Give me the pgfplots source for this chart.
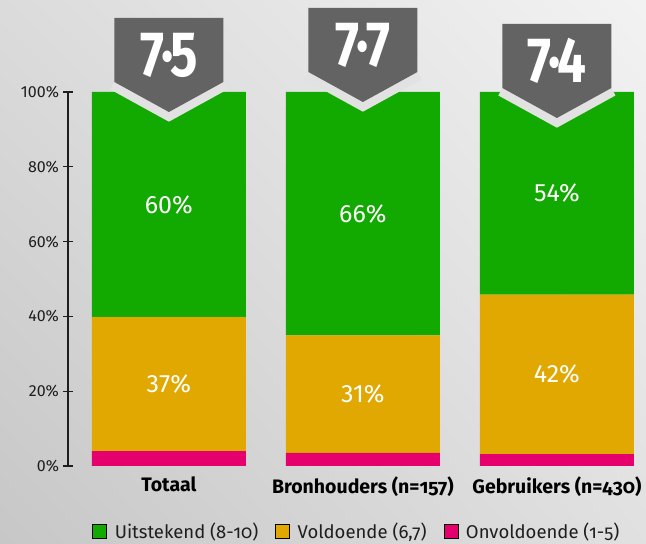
\documentclass[border=0pt]{standalone}
\usepackage{fontspec}
\setmainfont{Fira Sans}
\newfontfamily\osf[Numbers=OldStyle]{Fira Sans}
\usepackage{graphicx}
\usepackage{pgfplots}
\pgfplotsset{compat=1.18}
\usetikzlibrary{shadings}
\definecolor{cGreen}{HTML}{12A900}
\definecolor{cOrange}{HTML}{E0A800}
\definecolor{cMag}{HTML}{E5006E}
\definecolor{cBadge}{HTML}{636363}
\definecolor{cGap}{HTML}{E2E2E2}
\definecolor{cText}{HTML}{1E1E1E}

\newcommand{\badge}[3]{% anchor coordinate, top offset (pt above 100%), text
  \draw[cGap, line width=17pt, line join=miter]
    ([shift={(-54.5pt,#2pt-64pt)}]#1) --
    ([shift={(0pt,#2pt-94pt)}]#1) --
    ([shift={(54.5pt,#2pt-64pt)}]#1);
  \fill[cBadge]
    ([shift={(-54.5pt,#2pt)}]#1) --
    ([shift={(54.5pt,#2pt)}]#1) --
    ([shift={(54.5pt,#2pt-64pt)}]#1) --
    ([shift={(0pt,#2pt-94pt)}]#1) --
    ([shift={(-54.5pt,#2pt-64pt)}]#1) -- cycle;
  \node[anchor=base, text=white, inner sep=0pt, font=\fontsize{64}{64}\selectfont\bfseries]
    at ([shift={(0pt,#2pt-59pt)}]#1) {\scalebox{0.8}[1]{#3}};
}

\begin{document}
\begin{tikzpicture}
\useasboundingbox (0,0) rectangle (646pt,544pt);
\shade[upper left=white!86!black, upper right=white!95!black,
       lower left=white!78!black, lower right=white!88!black]
  (0,0) rectangle (646pt,544pt);
\begin{axis}[
  at={(68pt,78pt)}, anchor=south west,
  scale only axis, width=566.5pt, height=374pt,
  xmin=-0.52, xmax=2.4, ymin=0, ymax=100,
  clip=false,
  ybar stacked, bar width=154pt,
  axis x line*=bottom, axis y line*=left,
  x axis line style={draw=none},
  y axis line style={draw=cText, line width=1.2pt},
  xtick={0,1,2},
  xticklabels={Totaal, Bronhouders (n=157), Gebruikers (n=430)},
  x tick style={draw=none},
  xticklabel style={font=\osf\bfseries\fontsize{19.5}{22}\selectfont, text=black, yshift=-3pt},
  ytick={0,20,40,60,80,100},
  yticklabel={\pgfmathprintnumber{\tick}\%},
  /pgf/number format/assume math mode=true,
  yticklabel style={font=\fontsize{16}{19}\selectfont, text=cText, xshift=-1pt},
  y tick style={draw=cText, line width=1.2pt},
  tick align=center, major tick length=9pt,
  legend columns=3,
  legend style={at={(0.51,-0.174)}, anchor=center, draw=none, fill=none,
    font=\osf\fontsize{18.5}{21}\selectfont, text=cText,
    /tikz/every odd column/.append style={column sep=6pt},
    /tikz/every even column/.append style={column sep=15pt}},
  legend image code/.code={\fill[#1] (0pt,-7pt) rectangle (14pt,7pt);},
]
\addplot[fill=cMag, draw=none, forget plot] coordinates {(0,4.0) (1,3.5) (2,3.2)};
\addplot[fill=cOrange, draw=none, forget plot] coordinates {(0,35.8) (1,31.4) (2,42.6)};
\addplot[fill=cGreen, draw=none, forget plot] coordinates {(0,60.2) (1,65.1) (2,54.2)};

\addlegendimage{fill=cGreen}
\addlegendentry{Uitstekend (8-10)}
\addlegendimage{fill=cOrange}
\addlegendentry{Voldoende (6,7)}
\addlegendimage{fill=cMag}
\addlegendentry{Onvoldoende (1-5)}

\coordinate (t0) at (axis cs:0,100);
\coordinate (t1) at (axis cs:1,100);
\coordinate (t2) at (axis cs:2,100);
\coordinate (g0) at (axis cs:0,69.9);
\coordinate (g1) at (axis cs:1,67.4);
\coordinate (g2) at (axis cs:2,72.9);
\coordinate (o0) at (axis cs:0,21.9);
\coordinate (o1) at (axis cs:1,19.2);
\coordinate (o2) at (axis cs:2,24.5);
\end{axis}

\begin{scope}[every node/.style={text=white, font=\fontsize{25}{28}\selectfont}]
\node at (g0) {60\%};
\node at (g1) {66\%};
\node at (g2) {54\%};
\node at (o0) {37\%};
\node at (o1) {31\%};
\node at (o2) {42\%};
\end{scope}

\badge{t0}{74}{7\kern-0.06em·\kern-0.06em5}
\badge{t1}{84}{7\kern-0.06em·\kern-0.06em7}
\badge{t2}{68}{7\kern-0.06em·\kern-0.06em4}
\end{tikzpicture}
\end{document}
